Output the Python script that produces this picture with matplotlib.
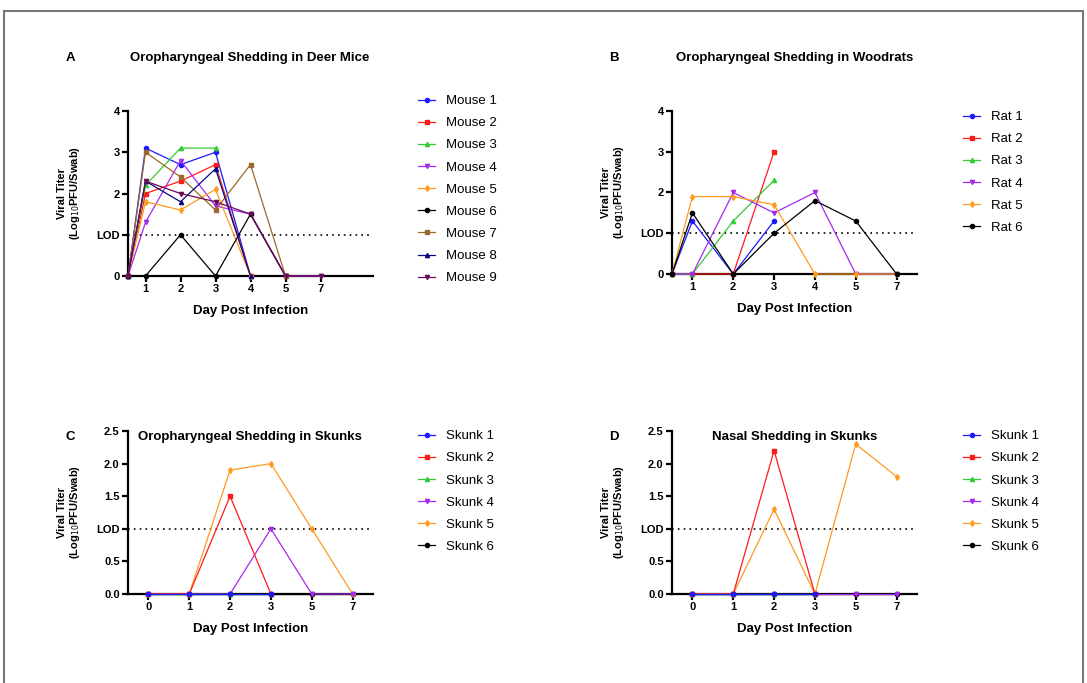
import numpy as np
import matplotlib
matplotlib.use("Agg")
import matplotlib.pyplot as plt
from matplotlib.patches import Rectangle

plt.rcParams['font.family'] = ['Liberation Sans', 'DejaVu Sans']

nan = np.nan

# Panel A: deer mice, oropharyngeal
mice_days = ["0", "1", "2", "3", "4", "5", "7"]
mice_names = ["Mouse 1", "Mouse 2", "Mouse 3", "Mouse 4", "Mouse 5",
              "Mouse 6", "Mouse 7", "Mouse 8", "Mouse 9"]
mouse1 = [0, 3.1, 2.7, 3.0, 0, nan, nan]
mouse2 = [0, 2.0, 2.3, 2.7, 0, nan, nan]
mouse3 = [0, 2.2, 3.1, 3.1, nan, nan, nan]
mouse4 = [0, 1.3, 2.8, 1.7, 1.5, 0, 0]
mouse5 = [0, 1.8, 1.6, 2.1, 0, nan, nan]
mouse6 = [0, 0, 1.0, 0, 1.5, 0, nan]
mouse7 = [0, 3.0, 2.4, 1.6, 2.7, 0, nan]
mouse8 = [0, 2.3, 1.8, 2.6, 0, nan, nan]
mouse9 = [0, 2.3, 2.0, 1.8, 1.5, 0, 0]

# Panel B: woodrats, oropharyngeal
rat_days = ["0", "1", "2", "3", "4", "5", "7"]
rat_names = ["Rat 1", "Rat 2", "Rat 3", "Rat 4", "Rat 5", "Rat 6"]
rat1 = [0, 1.3, 0, 1.3, nan, nan, nan]
rat2 = [0, 0, 0, 3.0, nan, nan, nan]
rat3 = [0, 0, 1.3, 2.3, nan, nan, nan]
rat4 = [0, 0, 2.0, 1.5, 2.0, 0, 0]
rat5 = [0, 1.9, 1.9, 1.7, 0, 0, 0]
rat6 = [0, 1.5, 0, 1.0, 1.8, 1.3, 0]

# Panels C/D: skunks
skunk_days = ["0", "1", "2", "3", "5", "7"]
skunk_names = ["Skunk 1", "Skunk 2", "Skunk 3", "Skunk 4", "Skunk 5", "Skunk 6"]
oro_skunk = [
    [0, 0, 0, 0, nan, nan],
    [0, 0, 1.5, 0, nan, nan],
    [0, 0, 0, 0, nan, nan],
    [0, 0, 0, 1.0, 0, 0],
    [0, 0, 1.9, 2.0, 1.0, 0],
    [0, 0, 0, 0, 0, 0],
]
nasal_skunk = [
    [0, 0, 0, 0, nan, nan],
    [0, 0, 2.2, 0, nan, nan],
    [0, 0, 0, 0, nan, nan],
    [0, 0, 0, 0, 0, 0],
    [0, 0, 1.3, 0, 2.3, 1.8],
    [0, 0, 0, 0, 0, 0],
]

mice_colors = ["#1a1aff", "#ff1a1a", "#33cc33", "#a52af0", "#ff9a1f",
               "#000000", "#9c6a2c", "#0a0a80", "#6a0a5a"]
mice_markers = ["o", "s", "^", "v", "d", "o", "s", "^", "v"]
six_colors = ["#1a1aff", "#ff1a1a", "#33cc33", "#a52af0", "#ff9a1f", "#000000"]
rat_markers = ["o", "s", "^", "v", "d", "o"]
skunk_markers = ["o", "s", "^", "v", "d", "o"]

W, H = 1087, 683
fig = plt.figure(figsize=(W / 100, H / 100), dpi=100)


def px_axes(x0, x1, ytop, ybot):
    return fig.add_axes([x0 / W, (H - ybot) / H, (x1 - x0) / W, (ybot - ytop) / H])


def style_axes(ax, xpos, days, xlim, yticks, yticklabels, ymax):
    for s in ["top", "right"]:
        ax.spines[s].set_visible(False)
    for s in ["left", "bottom"]:
        ax.spines[s].set_linewidth(1.6)
    ax.set_xlim(*xlim)
    ax.set_ylim(0, ymax)
    ticks = [p for p, d in zip(xpos, days) if d != "0" or xlim[0] < p]
    labels = [d for p, d in zip(xpos, days) if d != "0" or xlim[0] < p]
    ax.set_xticks(ticks)
    ax.set_xticklabels(labels, fontweight="bold", fontsize=8)
    ax.set_yticks(yticks)
    ax.set_yticklabels(yticklabels, fontweight="bold", fontsize=8)
    ax.tick_params(width=1.6, length=4, pad=2)
    ax.axhline(1.0, color="black", ls=(0, (1, 2.5)), lw=1.2, zorder=1)
    ax.set_xlabel("Day Post Infection", fontweight="bold", fontsize=9.5, labelpad=8)
    ax.set_ylabel("Viral Titer\n(Log$_{10}$PFU/Swab)", fontweight="bold",
                  fontsize=8, labelpad=10, linespacing=1.1)


def draw(ax, xpos, series, names, colors, markers, first_on_top=False):
    handles = []
    k = len(series)
    for i, (y, n, c, m) in enumerate(zip(series, names, colors, markers)):
        z = 3 + (k - i if first_on_top else i) * 0.01
        h, = ax.plot(xpos, y, color=c, marker=m, ms=3, lw=0.9, label=n,
                     clip_on=False, zorder=z)
        handles.append(h)
    return handles


def legend(handles, x, y):
    fig.legend(handles=handles, loc="upper left",
               bbox_to_anchor=(x / W, (H - y) / H), frameon=False,
               fontsize=9.5, labelspacing=0.75, handlelength=1.3,
               handletextpad=0.8, borderaxespad=0, borderpad=0)


def heading(letter, title, xl, xc, y):
    fig.text(xl / W, (H - y) / H, letter, fontsize=9.5, fontweight="bold",
             ha="center", va="center")
    fig.text(xc / W, (H - y) / H, title, fontsize=9.5, fontweight="bold",
             ha="center", va="center")


# A
axA = px_axes(128, 373, 111, 276)
xA = np.r_[0.5, np.arange(1, len(mice_days))]
hA = draw(axA, xA, [mouse1, mouse2, mouse3, mouse4, mouse5, mouse6, mouse7, mouse8, mouse9],
          mice_names, mice_colors, mice_markers)
style_axes(axA, xA, mice_days, (0.5, 7.5), [0, 1, 2, 3, 4], ["0", "LOD", "2", "3", "4"], 4)
legend(hA, 418, 95)
heading("A", "Oropharyngeal Shedding in Deer Mice", 70, 250, 58)

# B
axB = px_axes(672, 917, 111, 274)
xB = np.r_[0.5, np.arange(1, len(rat_days))]
hB = draw(axB, xB, [rat1, rat2, rat3, rat4, rat5, rat6], rat_names, six_colors, rat_markers)
style_axes(axB, xB, rat_days, (0.5, 6.5), [0, 1, 2, 3, 4], ["0", "LOD", "2", "3", "4"], 4)
legend(hB, 963, 111)
heading("B", "Oropharyngeal Shedding in Woodrats", 614, 795, 58)

# C
axC = px_axes(128, 373, 431, 594)
xC = np.arange(len(skunk_days))
hC = draw(axC, xC, oro_skunk, skunk_names, six_colors, skunk_markers, first_on_top=True)
style_axes(axC, xC, skunk_days, (-0.5, 5.5), [0, 0.5, 1.0, 1.5, 2.0, 2.5],
           ["0.0", "0.5", "LOD", "1.5", "2.0", "2.5"], 2.5)
legend(hC, 418, 430)
heading("C", "Oropharyngeal Shedding in Skunks", 70, 250, 437)

# D
axD = px_axes(672, 917, 431, 594)
hD = draw(axD, xC, nasal_skunk, skunk_names, six_colors, skunk_markers, first_on_top=True)
style_axes(axD, xC, skunk_days, (-0.5, 5.5), [0, 0.5, 1.0, 1.5, 2.0, 2.5],
           ["0.0", "0.5", "LOD", "1.5", "2.0", "2.5"], 2.5)
legend(hD, 963, 430)
heading("D", "Nasal Shedding in Skunks", 614, 795, 437)

# outer frame of the figure image
fig.add_artist(Rectangle((4 / W, -0.05), (1083 - 4) / W, (H - 11) / H + 0.05,
                         transform=fig.transFigure, fill=False,
                         edgecolor="#777777", lw=1.5))

fig.savefig("out.png", dpi=100)
